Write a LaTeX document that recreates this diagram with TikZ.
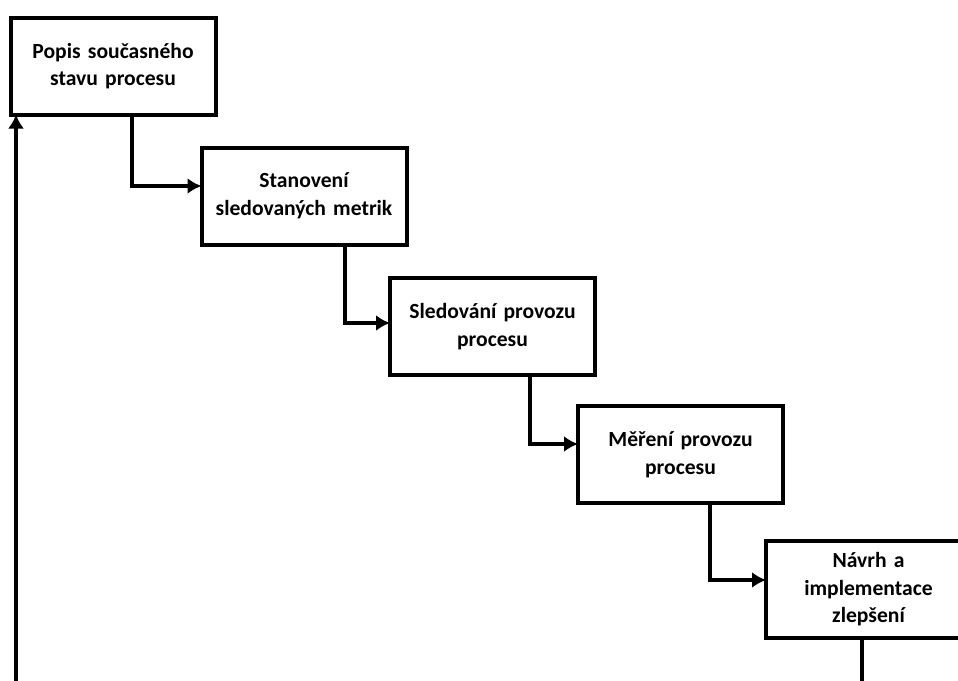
\documentclass[tikz,border=0pt]{standalone}
\usepackage{fontspec}
\setmainfont{Carlito}
\usetikzlibrary{arrows.meta, positioning}

\begin{document}
\begin{tikzpicture}[
    x=0.5pt, y=-0.5pt,
    stepbox/.style={rectangle, draw, line width=2pt, outer sep=0pt, minimum width=102.5pt, minimum height=48.5pt, text width=94pt, align=center, font=\bfseries\fontsize{10.8}{13.8}\selectfont},
    arrow/.style={-{Latex[length=7pt,width=8pt]}, line width=2pt}
]
\useasboundingbox (0,0) rectangle (958,680);
\clip (0,0) rectangle (958,680);

\node[stepbox] (popis) at (113,66) {Popis současného\\stavu procesu};
\node[stepbox, below right=16.5pt and -7pt of popis.south east, anchor=north west] (metriky) {Stanovení\\sledovaných metrik};
\node[stepbox, below right=16.75pt and -8.25pt of metriky.south east, anchor=north west] (sledovani) {Sledování provozu\\procesu};
\node[stepbox, below right=15.5pt and -8.5pt of sledovani.south east, anchor=north west] (mereni) {Měření provozu\\procesu};
\node[stepbox, below right=19pt and -8.5pt of mereni.south east, anchor=north west] (navrh) {Návrh a\\implementace\\zlepšení};

\draw[arrow] ([xshift=9.5pt]popis.south) |- ([yshift=5pt]metriky.west);
\draw[arrow] ([xshift=20.5pt]metriky.south) |- ([yshift=1.75pt]sledovani.west);
\draw[arrow] ([xshift=18.75pt]sledovani.south) |- ([yshift=5.25pt]mereni.west);
\draw[arrow] ([xshift=14.75pt]mereni.south) |- ([yshift=4.75pt]navrh.west);
\draw[line width=2pt] ([xshift=-3.25pt]navrh.south) -- ++(0,80);
\draw[arrow] ([xshift=2.75pt]popis.south west) ++(0,600) coordinate (zpet) -- ([xshift=2.75pt]popis.south west);

\end{tikzpicture}
\end{document}
